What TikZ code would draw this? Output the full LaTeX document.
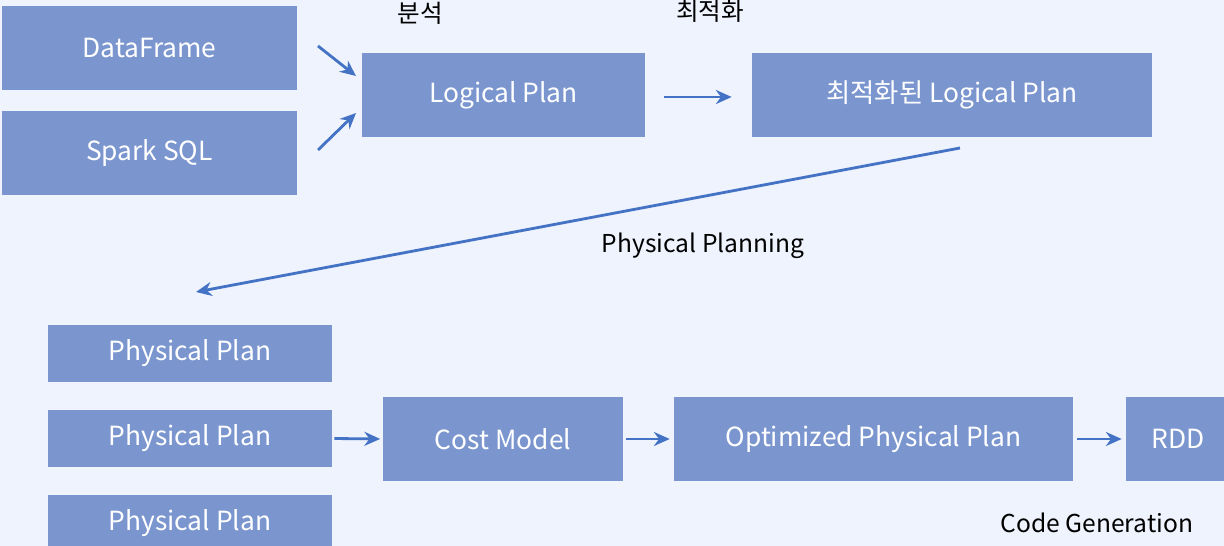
\documentclass[tikz,border=0pt]{standalone}
\usepackage{fontspec}
\setmainfont{Noto Sans CJK KR}
\usetikzlibrary{arrows.meta}
\definecolor{bgblue}{HTML}{EEF3FD}
\definecolor{boxblue}{HTML}{7B96CF}
\definecolor{arrowblue}{HTML}{4472C4}
\tikzset{
  planbox/.style={fill=boxblue, text=white, minimum height=1.68cm, inner sep=0pt, font=\fontsize{15}{18}\selectfont},
  smallbox/.style={planbox, minimum height=1.14cm},
  flow/.style={-{Stealth[length=9pt,width=8pt]}, arrowblue, line width=1.6pt},
  steplabel/.style={font=\fontsize{14}{17}\selectfont, text=black}
}
\begin{document}
\begin{tikzpicture}[x=0.02cm, y=-0.02cm]
	\useasboundingbox (0,0) rectangle (1224,546);
	\clip (0,0) rectangle (1224,546);
	\fill[bgblue] (0,0) rectangle (1224,546);
	
	\node[planbox, minimum width=5.9cm] (df) at (149.5, 48) {DataFrame};
	\node[planbox, minimum width=5.9cm] (sql) at (149.5, 153) {Spark SQL};
	\node[planbox, minimum width=5.66cm] (lp) at (503.5, 95) {Logical Plan};
	\node[planbox, minimum width=8cm] (olp) at (952, 95) {최적화된 Logical Plan};
	
	\node[smallbox, minimum width=5.68cm] (pp1) at (190, 353.5) {Physical Plan};
	\node[smallbox, minimum width=5.68cm] (pp2) at (190, 438.5) {Physical Plan};
	\node[smallbox, minimum width=5.68cm] (pp3) at (190, 523.5) {Physical Plan};
	\node[planbox, minimum width=4.8cm] (cost) at (503, 439) {Cost Model};
	\node[planbox, minimum width=7.98cm] (opp) at (873.5, 439) {Optimized Physical Plan};
	\node[planbox, minimum width=2.08cm] (rdd) at (1178, 439) {RDD};
	
	\node[steplabel] (analysis) at (420, 13) {분석};
	\node[steplabel] (optimize) at (710, 11) {최적화};
	\node[steplabel] (planning) at (703, 246) {Physical Planning};
	\node[steplabel] (codegen) at (1097, 523) {Code Generation};
	
	\coordinate (dfout) at (318, 46);
	\coordinate (lpin1) at (356, 76);
	\coordinate (sqlout) at (318, 150);
	\coordinate (lpin2) at (356, 113);
	\coordinate (olpout) at (960, 148);
	\coordinate (ppin) at (196, 292);
	
	\draw[flow] (dfout) -- (lpin1);
	\draw[flow] (sqlout) -- (lpin2);
	\draw[flow, shorten <=19\pgflinewidth*0+0.38cm, shorten >=0.4cm] ([yshift=-0.04cm]lp.east) -- ([yshift=-0.04cm]olp.west);
	\draw[flow] (olpout) -- (ppin);
	\draw[flow, shorten <=0.04cm, shorten >=0.05cm] (pp2.east) -- (cost.west);
	\draw[flow, shorten <=0.06cm, shorten >=0.08cm] (cost.east) -- (opp.west);
	\draw[flow, shorten <=0.08cm, shorten >=0.08cm] (opp.east) -- (rdd.west);
	
\end{tikzpicture}
\end{document}
